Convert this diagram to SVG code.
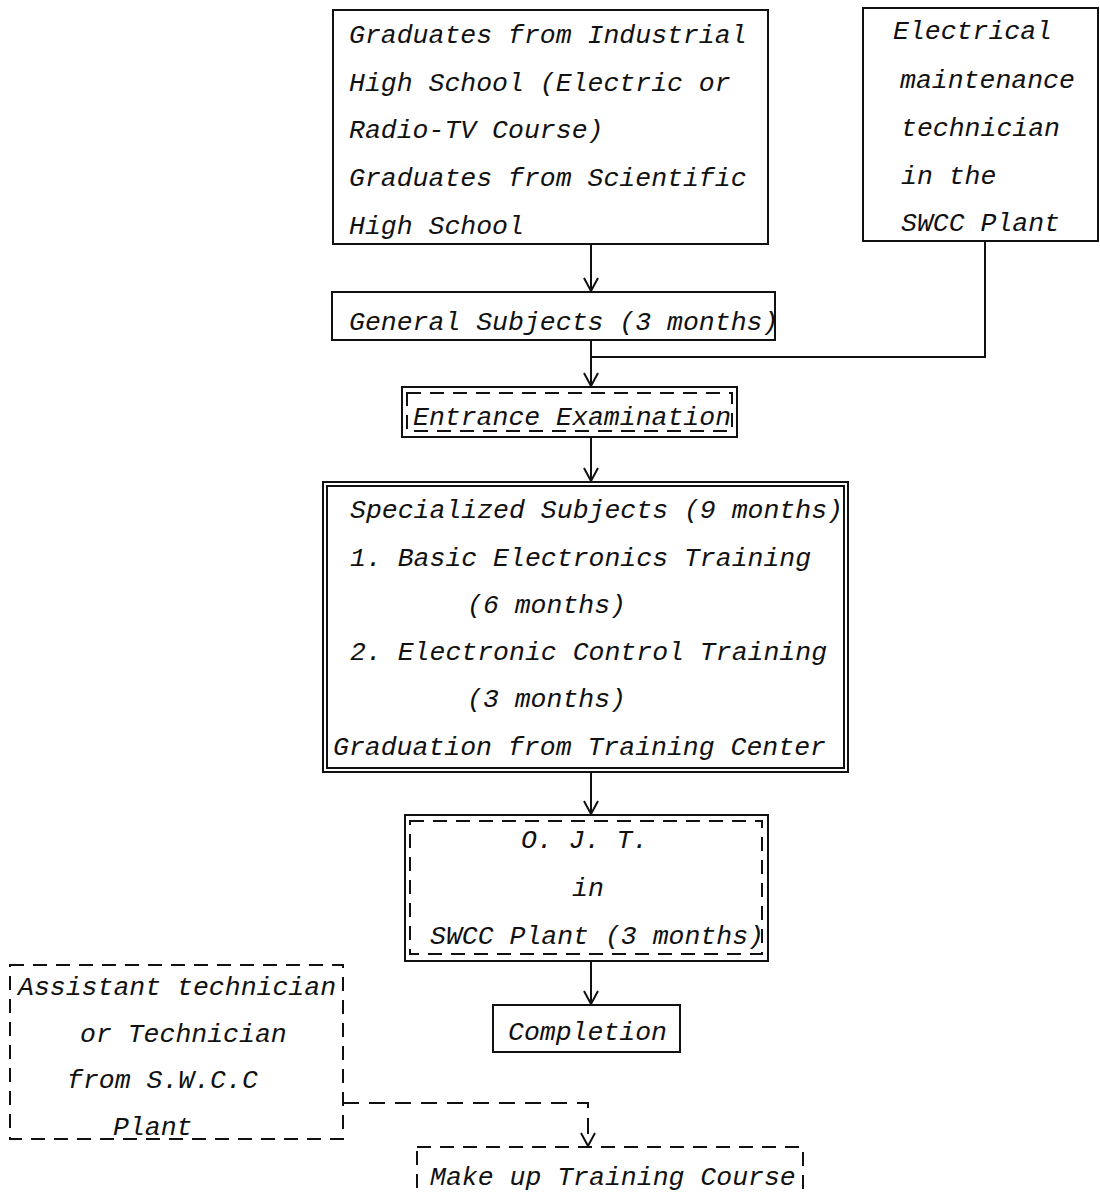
<svg xmlns="http://www.w3.org/2000/svg" width="1100" height="1195" viewBox="0 0 1100 1195">
<defs>
<style>
text{font-family:"Liberation Mono","Courier New",monospace;font-style:italic;font-size:26.5px;fill:#111;}
.box{fill:none;stroke:#111;stroke-width:2;}
.dbox{fill:none;stroke:#111;stroke-width:2;stroke-dasharray:14 9;}
.line{fill:none;stroke:#111;stroke-width:2;}
.dline{fill:none;stroke:#111;stroke-width:2;stroke-dasharray:16 10;}
</style>
<marker id="arr" viewBox="-1 -8 15 16" refX="13" refY="0" markerWidth="15" markerHeight="16" markerUnits="userSpaceOnUse" orient="auto">
<path d="M0,-7 L13,0 L0,7" fill="none" stroke="#111" stroke-width="2"/>
</marker>
</defs>
<rect width="1100" height="1195" fill="#fff"/>

<g id="connectors">
<path class="line" d="M591,244 V291" marker-end="url(#arr)"/>
<path class="line" d="M591,340 V386" marker-end="url(#arr)"/>
<path class="line" d="M985,241 V357 H591"/>
<path class="line" d="M591,437 V481" marker-end="url(#arr)"/>
<path class="line" d="M591,772 V814" marker-end="url(#arr)"/>
<path class="line" d="M591,961 V1004" marker-end="url(#arr)"/>
<path class="dline" d="M343,1103 H588 V1146" marker-end="url(#arr)"/>
</g>

<g id="n-graduates">
<rect class="box" x="333" y="10" width="435" height="234"/>
<text x="349" y="43">Graduates from Industrial</text>
<text x="349" y="91">High School (Electric or</text>
<text x="349" y="138">Radio-TV Course)</text>
<text x="349" y="186">Graduates from Scientific</text>
<text x="349" y="234">High School</text>
</g>

<g id="n-electrical">
<rect class="box" x="863" y="8" width="235" height="233"/>
<text x="893" y="39">Electrical</text>
<text x="900" y="88">maintenance</text>
<text x="901" y="136">technician</text>
<text x="901" y="184">in the</text>
<text x="901" y="231">SWCC Plant</text>
</g>

<g id="n-general">
<rect class="box" x="332" y="292" width="443" height="48"/>
<text x="349" y="330">General Subjects (3 months)</text>
</g>

<g id="n-entrance">
<rect class="box" x="402" y="387" width="335" height="50"/>
<rect class="dbox" x="407" y="393" width="325" height="38"/>
<text x="413" y="425">Entrance Examination</text>
</g>

<g id="n-specialized">
<rect class="box" x="323" y="482" width="525" height="290"/>
<rect class="box" x="327" y="486" width="517" height="282"/>
<text x="350" y="518">Specialized Subjects (9 months)</text>
<text x="350" y="566">1. Basic Electronics Training</text>
<text x="467" y="613">(6 months)</text>
<text x="350" y="660">2. Electronic Control Training</text>
<text x="467" y="707">(3 months)</text>
<text x="333" y="755">Graduation from Training Center</text>
</g>

<g id="n-ojt">
<rect class="box" x="405" y="815" width="363" height="146"/>
<rect class="dbox" x="410" y="821" width="352" height="133"/>
<text x="521" y="848">O. J. T.</text>
<text x="572" y="896">in</text>
<text x="430" y="944">SWCC Plant (3 months)</text>
</g>

<g id="n-completion">
<rect class="box" x="493" y="1005" width="187" height="47"/>
<text x="508" y="1040">Completion</text>
</g>

<g id="n-assistant">
<rect class="dbox" x="10" y="965" width="333" height="174"/>
<text x="18" y="995">Assistant technician</text>
<text x="80" y="1042">or Technician</text>
<text x="67" y="1088">from S.W.C.C</text>
<text x="113" y="1135">Plant</text>
</g>

<g id="n-makeup">
<rect class="dbox" x="417" y="1147" width="386" height="60"/>
<text x="430" y="1185">Make up Training Course</text>
</g>
</svg>
